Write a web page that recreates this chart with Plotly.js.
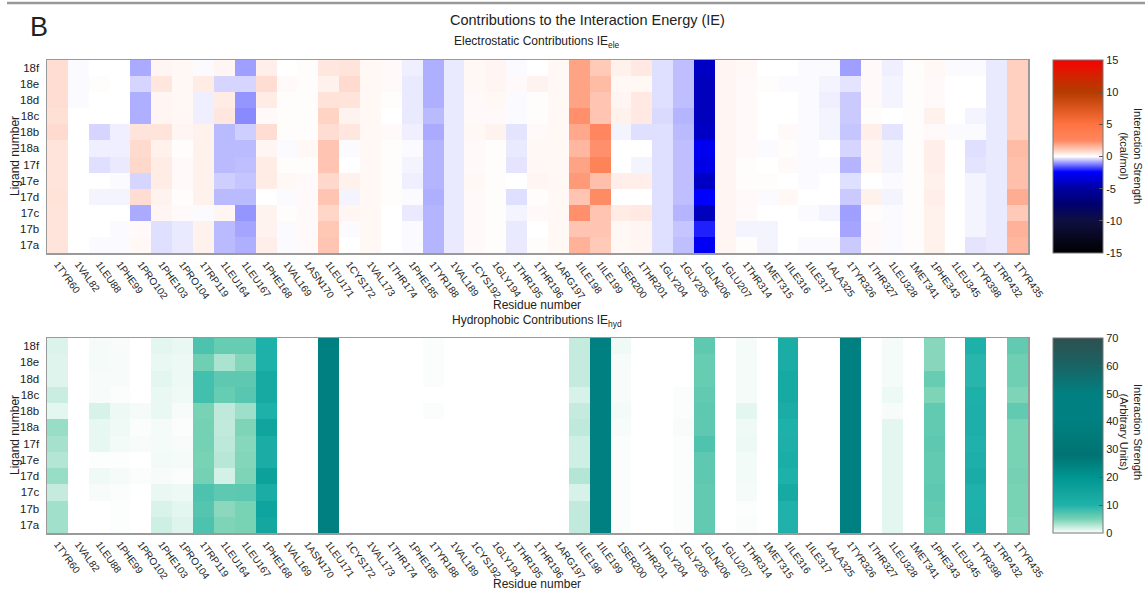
<!DOCTYPE html>
<html><head><meta charset="utf-8">
<script src="https://cdn.plot.ly/plotly-3.0.1.min.js"></script>
<style>body{margin:0;background:#fff}#chart{width:1145px;height:590px}</style>
</head><body><div id="chart"></div>
<script>
const residues = ['1TYR60','1VAL82','1LEU88','1PHE99','1PRO102','1PHE103','1PRO104','1TRP119','1LEU164','1LEU167','1PHE168','1VAL169','1ASN170','1LEU171','1CYS172','1VAL173','1THR174','1PHE185','1TYR188','1VAL189','1CYS192','1GLY194','1THR195','1THR196','1ARG197','1ILE198','1ILE199','1SER200','1THR201','1GLY204','1GLY205','1GLN206','1GLU207','1THR314','1MET315','1ILE316','1ILE317','1ALA325','1TYR326','1THR327','1LEU328','1MET341','1PHE343','1LEU345','1TYR398','1TRP432','1TYR435'];
const ligands = ['17a','17b','17c','17d','17e','17f','18a','18b','18c','18d','18e','18f'];

// Electrostatic contributions (kcal/mol), one array per ligand
const ele_18f = [0.7,-0.05,0,0,-0.8,0.2,0.15,-0.05,0.2,-0.9,0.35,0,0.05,0.5,0.55,0.15,0.1,-0.15,-0.75,-0.2,0.15,0.2,-0.05,0,0.15,1.9,1.1,0.3,0.45,-0.3,-0.6,-4.0,0.2,0.15,0,0,-0.05,-0.05,-0.9,0.1,-0.15,0.05,0.15,-0.05,-0.05,-0.2,1.0];
const ele_18e = [0.7,-0.05,0.05,0,-0.4,0.5,0.15,0.4,-0.4,-0.4,0.7,0.1,0.05,0.3,0.75,0.15,0.1,-0.2,-0.75,-0.2,0.15,0.2,0.1,0.25,0.15,1.9,1.4,0.15,0.15,-0.3,-0.6,-4.2,0.2,0.1,0.05,-0.05,-0.05,-0.1,-0.25,0.1,-0.1,0.05,0.1,0,0,-0.2,1.0];
const ele_18d = [0.7,-0.05,0,0,-0.75,0.2,0.15,-0.15,0.4,-1.0,0.4,0.05,0.05,0.6,0.55,0.15,0.05,-0.2,-0.75,-0.2,0.1,0.15,-0.05,0.05,0.15,1.9,1.2,0.2,0.45,-0.3,-0.6,-4.2,0.2,0.1,0,0,-0.05,-0.15,-0.5,0.1,-0.1,0.05,0.1,0,0,-0.2,1.0];
const ele_18c = [0.65,0,0,0,-0.75,0.2,0.15,-0.15,0.5,-1.1,0.1,0.05,0.05,0.9,0.25,0.15,0,-0.2,-0.65,-0.2,0.1,0.1,-0.05,0.05,0.15,2.3,1.2,0.3,0.45,-0.35,-0.7,-4.2,0.2,0.1,0,0,-0.05,-0.1,-0.5,0.05,0,0.05,0.3,0,-0.1,-0.2,1.0];
const ele_18b = [0.75,0,-0.4,-0.15,0.55,0.55,0.2,0.3,-0.65,-0.45,0.7,0.05,0.05,0.7,0.5,0.15,0.1,-0.15,-0.8,-0.2,0.15,0.25,-0.25,0.1,0.15,1.8,2.6,-0.1,-0.3,-0.3,-0.65,-4.0,0.2,0.1,0,0.1,-0.05,-0.1,-0.55,0.35,-0.25,0.05,0.1,-0.05,-0.05,-0.2,1.0];
const ele_18a = [0.55,0,-0.15,-0.15,0.75,0.3,0.05,0.3,-0.65,-0.65,0.2,-0.05,0.15,1.2,-0.05,0.15,0.05,-0.05,-0.7,-0.2,0.1,0.05,-0.2,0.15,0.15,1.5,2.3,0,0,-0.3,-0.6,-2.8,0.2,0.1,-0.05,0.05,-0.05,0,-0.4,0.2,-0.1,0.05,0.35,0,-0.3,-0.2,1.4];
const ele_17f = [0.55,0,-0.3,-0.2,0.8,0.4,0.1,0.3,-0.65,-0.6,0.4,0.05,0.05,1.2,0,0.15,0.05,-0.1,-0.7,-0.2,0.1,0.05,-0.25,0.15,0.15,1.9,3.0,0,-0.1,-0.3,-0.6,-3.1,0.2,0.05,0,0.1,-0.05,-0.05,-0.7,0.2,-0.1,0.05,0.35,0,-0.25,-0.2,1.3];
const ele_17e = [0.55,0,0,-0.05,-0.4,0.4,0.1,0.3,-0.45,-0.55,0.4,0.15,0.1,0.8,0.3,0.15,0.05,-0.15,-0.7,-0.2,0.15,0.05,0,0.2,0.15,2.1,1.3,0.35,0.35,-0.3,-0.6,-4.0,0.2,0.05,0.05,0,-0.05,0,-0.3,0,-0.05,0.05,0.3,0,-0.1,-0.2,1.3];
const ele_17d = [0.6,0,-0.1,-0.1,0.7,0.25,0.05,0.3,-0.65,-0.65,0,-0.05,0.1,1.2,-0.1,0.15,0.05,-0.05,-0.75,-0.2,0.1,0.05,-0.3,0.05,0.15,1.2,2.4,0,0,-0.3,-0.6,-2.4,0.2,0.1,-0.05,0.15,0,0,-0.5,0.3,-0.1,0.05,0.35,0,-0.1,-0.2,1.7];
const ele_17c = [0.55,0,0,0,-0.8,0.2,0.1,-0.05,0.2,-1.0,0.25,0.05,0.1,0.85,0.2,0.15,0,-0.2,-0.7,-0.2,0.1,0.05,-0.1,0.1,0.15,2.3,1.2,0.4,0.45,-0.3,-0.7,-4.2,0.2,0.1,0,0,-0.05,-0.1,-0.9,0.05,-0.05,0.05,0.3,0,-0.1,-0.2,1.1];
const ele_17b = [0.55,0,0,-0.05,0.1,-0.3,-0.2,0.3,-0.65,-0.85,0.25,-0.05,0.1,1.15,-0.05,0.15,0,-0.05,-0.7,-0.2,0.1,0.05,-0.2,0,0.15,1.2,1.2,0.15,0.2,-0.3,-0.55,-2.1,0.2,-0.1,-0.1,0,0,0,-0.85,0.1,-0.05,0.05,0.3,0,-0.1,-0.2,1.6];
const ele_17a = [0.55,0,-0.05,-0.05,0.15,-0.3,-0.2,0.3,-0.65,-0.75,0.35,-0.05,0.1,1.2,0,0.15,0,-0.05,-0.7,-0.2,0.1,0.05,-0.2,0.05,0.15,1.6,1.1,0.15,0.2,-0.3,-0.6,-2.7,0.2,0.05,-0.1,0,-0.05,-0.05,-0.5,0.1,-0.05,0.05,0.3,0,-0.25,-0.2,1.5];

// Hydrophobic contributions (arbitrary units), one array per ligand
const hyd_18f = [1.3,0,0.4,0.3,0,1.0,0.8,7.5,6,6,10.5,0,0,45,0,0,0,0,0.2,0,0,0,0,0,0,2.2,45,0.6,0,0,0,6.5,0,0.4,0,12,0,0,45,0,0.4,0,4.4,0,10.5,0,6.3];
const hyd_18e = [1.2,0,0.4,0.3,0,0.8,0.7,5.5,3.1,4.6,10.5,0,0,45,0,0,0,0,0.2,0,0,0,0,0,0,2.2,45,0.3,0,0,0,6,0,0.4,0,12,0,0,45,0,0.4,0,4.4,0,9.5,0,5.5];
const hyd_18d = [1.2,0,0.3,0.3,0,1.0,0.7,8,6.5,6.5,13,0,0,45,0,0,0,0,0.2,0,0,0,0,0,0,2.2,45,0.3,0,0,0,6,0,0.4,0,13,0,0,45,0,0.4,0,6,0,9.5,0,5.5];
const hyd_18c = [2.0,0,0.3,0.2,0,0.8,0.6,8,6,6.8,13,0,0,45,0,0,0,0,0,0,0,0,0,0,0,1.5,45,0.3,0,0,0.2,6.3,0,0.4,0,13,0,0,45,0,0.7,0,4.8,0,10.5,0,4.8];
const hyd_18b = [1.0,0,1.5,0.7,0.4,0.8,0.3,5,2.4,3.6,10.5,0,0,45,0,0,0,0,0.2,0,0,0,0,0,0,2.2,45,0.5,0,0,0.2,6.5,0,1.0,0,12,0,0,45,0,0.3,0,6.3,0,11,0,6.3];
const hyd_18a = [3.8,0,0.9,0.6,0.2,0.4,0.2,5.2,2.3,4.8,15,0,0,45,0,0,0,0,0,0,0,0,0,0,0,2.4,45,0.3,0,0,0.3,6.5,0,0.6,0,10.5,0,0,45,0,1.0,0,6.3,0,11,0,5];
const hyd_17f = [3.3,0,0.9,0.5,0.3,0.4,0.3,5.2,2.5,4.5,12,0,0,45,0,0,0,0,0,0,0,0,0,0,0,1.8,45,0.2,0,0,0.2,7.3,0,0.7,0,11,0,0,45,0,1.0,0,6.5,0,10,0,5];
const hyd_17e = [2.8,0,0.1,0.1,0,0.5,0.4,5,2.7,4.6,12,0,0,45,0,0,0,0,0,0,0,0,0,0,0,1.8,45,0.2,0,0,0.2,6.5,0,0.5,0,11.5,0,0,45,0,1.0,0,6.3,0,11,0,5];
const hyd_17d = [3.8,0,0.6,0.4,0.2,0.3,0.2,5.2,1.6,4.8,16,0,0,45,0,0,0,0,0,0,0,0,0,0,0,2.8,45,0.2,0,0,0.2,6.5,0,0.5,0,10.5,0,0,45,0,1.0,0,6.3,0,12,0,5.2];
const hyd_17c = [2.2,0,0.3,0.2,0,0.8,0.7,7.5,6.5,6.6,12,0,0,45,0,0,0,0,0,0,0,0,0,0,0,1.5,45,0.2,0,0,0.2,6.3,0,0.4,0,13,0,0,45,0,1.0,0,6.5,0,10,0,5];
const hyd_17b = [3.5,0,0,0.1,0,1.4,1.0,7,4.3,5,15,0,0,45,0,0,0,0,0,0,0,0,0,0,0,2.3,45,0.2,0,0,0.2,6.3,0,0.1,0,10,0,0,45,0,1.0,0,6.3,0,10.5,0,5];
const hyd_17a = [3.5,0,0,0.1,0,1.8,1.2,7.5,4.8,5,14,0,0,45,0,0,0,0,0,0,0,0,0,0,0,2.3,45,0.2,0,0,0.2,6.3,0,0.2,0,10,0,0,45,0,1.0,0,6,0,11,0,4.8];

const eleTicks = [-15,-10,-5,0,5,10,15];
const eleTickText = ['-15','-10','-5','0','5','10','15'];
const hydTicks = [0,10,20,30,40,50,60,70];
const hydTickText = ['0','10','20','30','40','50','60','70'];

const eleZ = [ele_17a,ele_17b,ele_17c,ele_17d,ele_17e,ele_17f,ele_18a,ele_18b,ele_18c,ele_18d,ele_18e,ele_18f];
const hydZ = [hyd_17a,hyd_17b,hyd_17c,hyd_17d,hyd_17e,hyd_17f,hyd_18a,hyd_18b,hyd_18c,hyd_18d,hyd_18e,hyd_18f];

const eleScale = [
  [0,'rgb(0,0,0)'],[0.167,'rgb(15,15,65)'],[0.25,'rgb(0,0,110)'],[0.333,'rgb(0,0,160)'],
  [0.42,'rgb(0,0,255)'],[0.5,'rgb(255,255,255)'],[0.583,'rgb(255,135,95)'],
  [0.667,'rgb(255,115,65)'],[0.75,'rgb(220,85,30)'],[0.833,'rgb(180,60,0)'],
  [0.917,'rgb(210,35,0)'],[1,'rgb(250,0,0)']];
const hydScale = [
  [0,'rgb(255,255,255)'],[5/70,'rgb(120,210,180)'],[10/70,'rgb(32,178,170)'],
  [20/70,'rgb(0,150,145)'],[28/70,'rgb(0,115,115)'],[40/70,'rgb(0,128,128)'],
  [50/70,'rgb(0,128,128)'],[60/70,'rgb(25,100,100)'],[1,'rgb(47,79,79)']];

const FONT = 'Liberation Sans, Arial, sans-serif';
const W = 1145, H = 590, ML = 47, MR = 117, MT = 60, MB = 57;
const PW = W - ML - MR, PH = H - MT - MB;
const px = x => (x - ML) / PW;
const py = y => 1 - (y - MT) / PH;

const cbCommon = {
  thicknessmode:'pixels', thickness:50, lenmode:'pixels', xanchor:'left', yanchor:'top',
  xpad:0, ypad:0, outlinewidth:1, outlinecolor:'#777', ticks:'inside', ticklen:4,
  tickcolor:'#555', tickfont:{family:FONT,size:11,color:'#222'}, tickmode:'array'
};

const traces = [
  {type:'heatmap', x:residues, y:ligands, z:eleZ, xaxis:'x', yaxis:'y',
   colorscale:eleScale, zmin:-15, zmax:15,
   colorbar:Object.assign({}, cbCommon, {x:px(1053), y:1, len:193, tickvals:eleTicks, ticktext:eleTickText})},
  {type:'heatmap', x:residues, y:ligands, z:hydZ, xaxis:'x2', yaxis:'y2',
   colorscale:hydScale, zmin:0, zmax:70,
   colorbar:Object.assign({}, cbCommon, {x:px(1053), y:py(338), len:195, tickvals:hydTicks, ticktext:hydTickText})}
];

const xax = (anchor) => ({
  anchor, domain:[0,1], type:'category', tickmode:'array', tickvals:residues, ticktext:residues,
  tickangle:54, tickfont:{family:FONT,size:10,color:'#222'}, ticks:'', ticklen:0, showline:true, mirror:true,
  linecolor:'#9a9a9a', linewidth:1.5, showgrid:false, zeroline:false, automargin:false
});
const yax = (anchor, domain) => ({
  anchor, domain, type:'category', tickfont:{family:FONT,size:11.5,color:'#222'}, ticks:'',
  showline:true, mirror:true, linecolor:'#9a9a9a', linewidth:1.5, showgrid:false,
  zeroline:false, automargin:false, ticklabelstandoff:4
});

const ann = (text, x, y, size, extra) => Object.assign({
  text, x, y, xref:'paper', yref:'paper', showarrow:false, xanchor:'center', yanchor:'middle',
  font:{family:FONT, size, color:'#222'}
}, extra || {});

const layout = {
  width:W, height:H, margin:{l:ML, r:MR, t:MT, b:MB}, paper_bgcolor:'#fff', plot_bgcolor:'#fff',
  font:{family:FONT, color:'#222'},
  xaxis: xax('y'), yaxis: yax('x', [py(253), 1]),
  xaxis2: xax('y2'), yaxis2: yax('x2', [0, py(338)]),
  shapes:[{type:'line', xref:'paper', yref:'paper', x0:px(7), x1:px(1145), y0:py(3), y1:py(3),
           line:{color:'#999', width:2.5}}],
  annotations:[
    ann('B', px(28), py(27), 27, {xanchor:'left'}),
    ann('Contributions to the Interaction Energy (IE)', px(587), py(20), 14.5),
    ann('Electrostatic Contributions IE<sub>ele</sub>', px(537), py(42), 12),
    ann('Hydrophobic Contributions IE<sub>hyd</sub>', px(537), py(321), 12),
    ann('Residue number', px(537), py(305), 12),
    ann('Residue number', px(537), py(584), 12),
    ann('Ligand number', px(15), py(156), 12, {textangle:-90}),
    ann('Ligand number', px(15), py(435), 12, {textangle:-90}),
    ann('Interaction Strength<br>(kcal/mol)', px(1131), py(156), 11, {textangle:90}),
    ann('Interaction Strength<br>(Arbitrary Units)', px(1131), py(432), 11, {textangle:90})
  ]
};

Plotly.newPlot('chart', traces, layout, {displayModeBar:false, staticPlot:true});
</script></body></html>
